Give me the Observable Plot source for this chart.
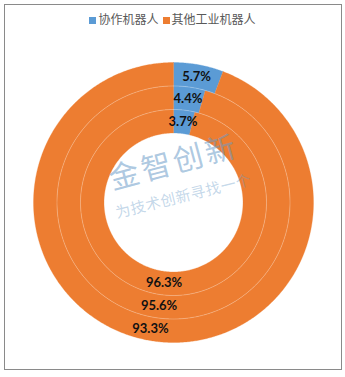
<!DOCTYPE html>
<html>
<head>
<meta charset="utf-8">
<script src="https://cdn.jsdelivr.net/npm/d3@7"></script>
<script src="https://cdn.jsdelivr.net/npm/@observablehq/plot@0.6"></script>
<style>
  html, body { margin: 0; padding: 0; background: #fff; }
  #wrap { position: relative; width: 345px; height: 377px; overflow: hidden; background: #fff; }
  #frame { position: absolute; left: 4px; top: 4px; width: 336px; height: 364px; border: 1.5px solid #8a8a8a; }
  #legend { position: absolute; top: 10px; left: 0; width: 345px; text-align: center;
            font-family: "Noto Sans CJK SC", sans-serif; font-size: 12px; color: #595959; line-height: 18px; }
  #legend span.sw { display: inline-block; width: 7px; height: 7px; margin: 0 2px 1px 0; vertical-align: middle; }
  #legend span.item { margin: 0 2px; }
  #chart { position: absolute; left: 0; top: 0; }
  .wm { position: absolute; font-family: "Noto Sans CJK SC", sans-serif; white-space: nowrap; }
</style>
</head>
<body>
<div id="wrap">
  <div id="chart"></div>
  <div id="frame"></div>
  <div id="legend"></div>
  <div class="wm" id="wm1">金智创新</div>
  <div class="wm" id="wm2">为技术创新寻找一个</div>
</div>
<script>
// Data (rings from inner to outer)
const series = ["协作机器人", "其他工业机器人"];
const colors = ["#5B9BD5", "#ED7D31"];
const rings = ["内环", "中环", "外环"];
const collab = [3.7, 4.4, 5.7];
const other = [96.3, 95.6, 93.3];

// Layout constants
const R0 = 69.5, W = 23.5;
const polys = [];
const labels = [];
const seps = [];
rings.forEach((ring, i) => {
  const vals = [collab[i], other[i]];
  const total = d3.sum(vals);
  const r1 = R0 + i * W, r2 = r1 + W, rm = (r1 + r2) / 2;
  let a0 = 0;
  vals.forEach((v, j) => {
    const a1 = a0 + v / total * 2 * Math.PI;
    const id = ring + "-" + series[j];
    const n = Math.max(2, Math.ceil((a1 - a0) / (Math.PI / 360)));
    const pts = [];
    for (let k = 0; k <= n; k++) {
      const a = a0 + (a1 - a0) * k / n;
      pts.push({id, series: series[j], x: r2 * Math.sin(a), y: r2 * Math.cos(a)});
    }
    for (let k = n; k >= 0; k--) {
      const a = a0 + (a1 - a0) * k / n;
      pts.push({id, series: series[j], x: r1 * Math.sin(a), y: r1 * Math.cos(a)});
    }
    pts.push({...pts[0]});
    polys.push(...pts);
    const mid = (a0 + a1) / 2;
    labels.push({x: rm * Math.sin(mid), y: rm * Math.cos(mid), text: v.toFixed(1) + "%"});
    a0 = a1;
  });
  if (i > 0) {
    for (let k = 0; k <= 720; k++) {
      const a = k / 720 * 2 * Math.PI;
      seps.push({id: ring, x: r1 * Math.sin(a), y: r1 * Math.cos(a)});
    }
  }
});

const chart = Plot.plot({
  width: 345,
  height: 377,
  margin: 0,
  x: {axis: null, domain: [-173, 172]},
  y: {axis: null, domain: [-175, 202]},
  color: {domain: series, range: colors},
  style: {background: "transparent", fontFamily: "Lato, 'Open Sans', sans-serif"},
  marks: [
    Plot.line(polys, {x: "x", y: "y", z: "id", fill: "series", stroke: "series", strokeWidth: 0.3, curve: "linear"}),
    Plot.line(seps, {x: "x", y: "y", z: "id", stroke: "#ffffff", strokeWidth: 0.8, strokeOpacity: 0.35, curve: "linear"}),
    Plot.text(labels, {x: "x", y: "y", text: "text", fill: "#111", fontWeight: "bold", fontSize: 13})
  ]
});
document.getElementById("chart").append(chart);

// Legend
const legend = document.getElementById("legend");
series.forEach((s, i) => {
  const item = document.createElement("span");
  item.className = "item";
  const sw = document.createElement("span");
  sw.className = "sw";
  sw.style.background = colors[i];
  item.append(sw, document.createTextNode(s));
  legend.append(item);
});

// Watermark
const wm1 = document.getElementById("wm1");
wm1.style.cssText += "left:173px;top:160px;font-size:30px;letter-spacing:3px;transform:translate(-50%,-50%) rotate(-15deg);color:rgba(105,155,200,0.55);";
const wm2 = document.getElementById("wm2");
wm2.style.cssText += "left:183px;top:195px;font-size:15px;letter-spacing:0.5px;transform:translate(-50%,-50%) rotate(-14deg);color:rgba(105,155,200,0.4);";
</script>
</body>
</html>
